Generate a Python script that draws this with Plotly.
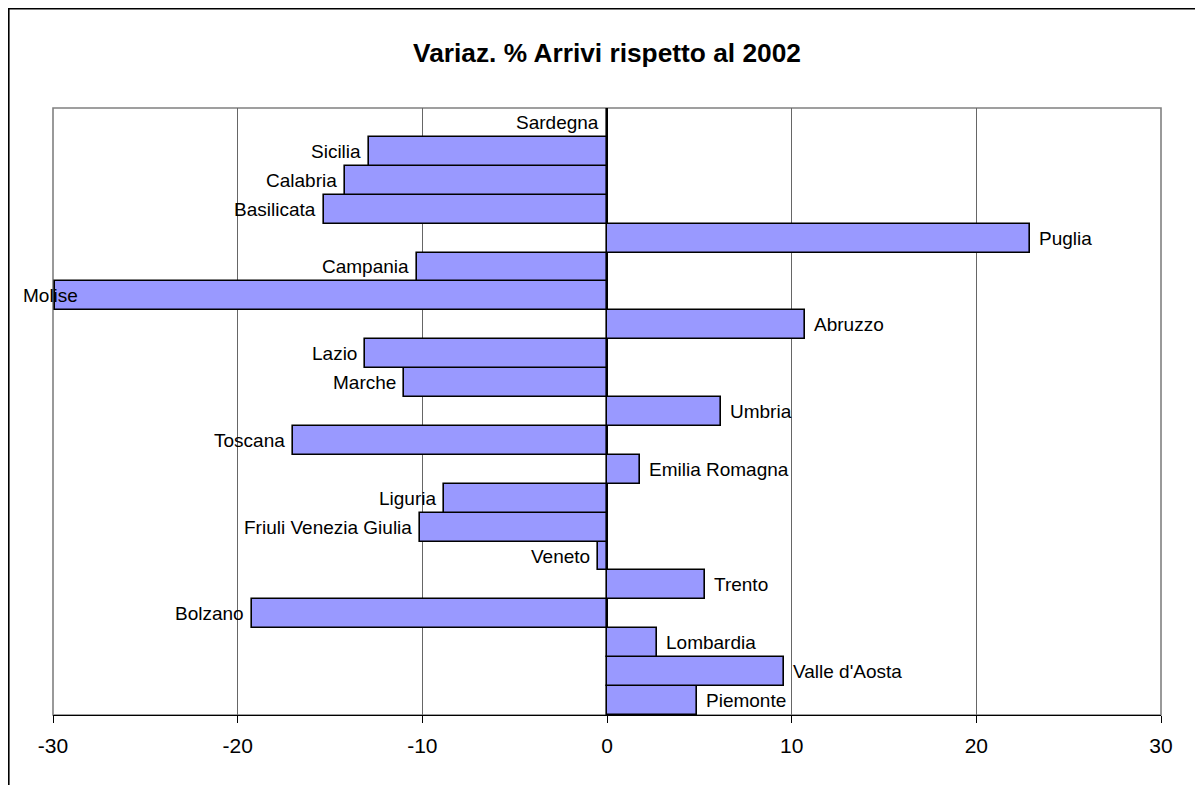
import plotly.graph_objects as go

regions = ["Piemonte", "Valle d'Aosta", "Lombardia", "Bolzano", "Trento", "Veneto",
           "Friuli Venezia Giulia", "Liguria", "Emilia Romagna", "Toscana", "Umbria",
           "Marche", "Lazio", "Abruzzo", "Molise", "Campania", "Puglia", "Basilicata",
           "Calabria", "Sicilia", "Sardegna"]
values = [4.9, 9.6, 2.7, -19.2, 5.3, -0.5,
          -10.1, -8.8, 1.8, -17.0, 6.2,
          -11.0, -13.1, 10.7, -29.9, -10.3, 22.9, -15.3,
          -14.2, -12.9, 0.0]
x_ticks = [-30, -20, -10, 0, 10, 20, 30]
title = "Variaz. % Arrivi rispetto al 2002"

FONT = "Liberation Sans, Arial, sans-serif"
LBL = 19

# the page body adds an 8px margin; sizes are compensated for it
W, H = 1195, 777
ML, MR, MT, MB = 45, 42, 100, 70
PW, PH = W - ML - MR, H - MT - MB

fig = go.Figure()
fig.add_trace(go.Bar(
    y=regions, x=values, orientation="h",
    marker=dict(color="#9999FF", line=dict(color="black", width=1.6)),
    hoverinfo="skip",
))

annotations = []
for name, v in zip(regions, values):
    f = dict(family=FONT, size=LBL, color="black")
    if name == "Molise":
        # label pushed inside chart area like the original
        annotations.append(dict(x=-32 / PW, xref="paper", y=name, yref="y", text=name,
                                showarrow=False, xanchor="left", yanchor="middle", font=f))
    elif v > 0:
        annotations.append(dict(x=v, y=name, text=name, showarrow=False,
                                xanchor="left", xshift=7, yanchor="middle", font=f))
    else:
        annotations.append(dict(x=v, y=name, text=name, showarrow=False,
                                xanchor="right", xshift=-6, yanchor="middle", font=f))

fig.update_layout(
    width=W, height=H,
    margin=dict(l=ML, r=MR, t=MT, b=MB, autoexpand=False),
    paper_bgcolor="white", plot_bgcolor="white",
    bargap=0, showlegend=False,
    title=dict(text="<b>" + title + "</b>", x=0.5, xref="paper", xanchor="center",
               y=1 - 45 / H, yref="container", yanchor="middle",
               font=dict(family=FONT, size=26.3, color="black")),
    xaxis=dict(range=[-30, 30], tickvals=x_ticks, ticktext=[str(t) for t in x_ticks],
               showgrid=True, gridcolor="#666666", gridwidth=1,
               zeroline=True, zerolinecolor="black", zerolinewidth=1,
               showline=True, linecolor="black", linewidth=1.2,
               ticks="outside", ticklen=7, tickcolor="black", tickwidth=1,
               ticklabelstandoff=5,
               tickfont=dict(family=FONT, size=21, color="black")),
    yaxis=dict(showticklabels=False, showgrid=False, zeroline=False,
               showline=False, ticks="", categoryorder="array", categoryarray=regions),
    annotations=annotations,
    shapes=[
        # plot area border
        dict(type="rect", xref="paper", yref="paper", x0=0, x1=1, y0=0, y1=1,
             line=dict(color="#808080", width=1.6), layer="below"),
        # outer chart frame (only top and left edges visible)
        dict(type="rect", xref="paper", yref="paper",
             x0=-(ML - 0.8) / PW, x1=1.2, y0=-0.3, y1=1 + (MT - 0.8) / PH,
             line=dict(color="black", width=1.6), layer="below"),
    ],
)

fig.write_html("out.html")
